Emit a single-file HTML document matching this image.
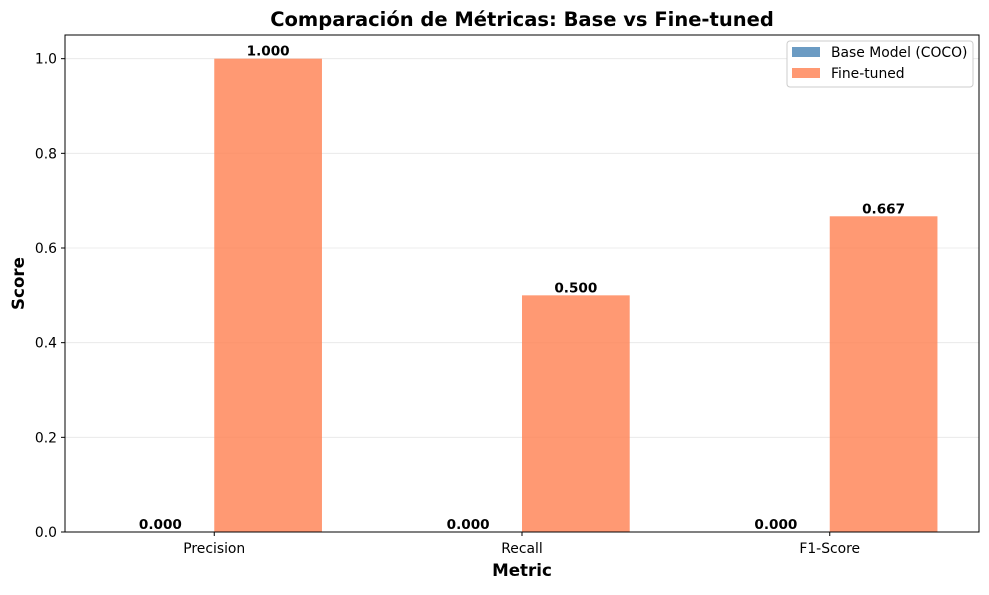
<!DOCTYPE html>
<html><head><meta charset="utf-8"><style>
body{margin:0;background:#fff;font-family:"Liberation Sans","DejaVu Sans",sans-serif;}
svg text{font-family:"DejaVu Sans","Liberation Sans",sans-serif;}
</style></head><body>
<svg id="chart" width="989" height="590" xmlns="http://www.w3.org/2000/svg"></svg>
<script>
const categories = ["Precision","Recall","F1-Score"];
const baseValues = [0.0, 0.0, 0.0];
const fineValues = [1.0, 0.5, 0.667];
const yTicks = [0.0,0.2,0.4,0.6,0.8,1.0];

const NS="http://www.w3.org/2000/svg";
const svg=document.getElementById('chart');
const L=65,R=979,T=35,B=532;
const xMin=-0.485,xMax=2.485,yMin=0,yMax=1.05;
const xs=v=>L+(v-xMin)/(xMax-xMin)*(R-L);
const ys=v=>B-(v-yMin)/(yMax-yMin)*(B-T);
function el(tag,attrs,parent){const e=document.createElementNS(NS,tag);for(const k in attrs)e.setAttribute(k,attrs[k]);(parent||svg).appendChild(e);return e;}
function txt(s,attrs){const e=el('text',attrs);e.textContent=s;return e;}

yTicks.forEach(t=>{
  const g=el('line',{x1:L,x2:R,y1:ys(t),y2:ys(t),stroke:'#e6e6e6','stroke-width':0.8});
  
  
});
const w=0.35;
categories.forEach((c,i)=>{
  const bx=xs(i-w),bw=xs(i)-xs(i-w);
  const b=el('rect',{x:bx,y:ys(baseValues[i]),width:bw,height:ys(0)-ys(baseValues[i]),fill:'#4682b4','fill-opacity':0.8});
  
  
  const f=el('rect',{x:xs(i),y:ys(fineValues[i]),width:bw,height:ys(0)-ys(fineValues[i]),fill:'#ff7f50','fill-opacity':0.8});
  
  
  const l1=txt(baseValues[i].toFixed(3),{x:xs(i-w/2),y:ys(baseValues[i])-3,'text-anchor':'middle','font-size':13.6,'font-weight':'bold'});
  
  
  const l2=txt(fineValues[i].toFixed(3),{x:xs(i+w/2),y:ys(fineValues[i])-3,'text-anchor':'middle','font-size':13.6,'font-weight':'bold'});
  
  
  const tk=el('line',{x1:xs(i),x2:xs(i),y1:B,y2:B+4,stroke:'#000'});
  
  
  const tl=txt(c,{x:xs(i),y:B+21,'text-anchor':'middle','font-size':13.9});
  
  
});
yTicks.forEach(t=>{
  const tk=el('line',{x1:L-4,x2:L,y1:ys(t),y2:ys(t),stroke:'#000'});
  
  
  const tl=txt(t.toFixed(1),{x:L-8,y:ys(t)+5,'text-anchor':'end','font-size':13.9});
  
  
});
const frame=el('rect',{x:L,y:T,width:R-L,height:B-T,fill:'none',stroke:'#000','stroke-width':1});


const title=txt('Comparación de Métricas: Base vs Fine-tuned',{x:(L+R)/2,y:26,'text-anchor':'middle','font-size':19.5,'font-weight':'bold'});


const xt=txt('Metric',{x:(L+R)/2,y:576,'text-anchor':'middle','font-size':16.7,'font-weight':'bold'});


const yt=txt('Score',{x:0,y:0,'text-anchor':'middle','font-size':16.7,'font-weight':'bold',transform:'translate(24,'+((T+B)/2)+') rotate(-90)'});


const lg=el('g',{});


el('rect',{x:787,y:41,width:186,height:46,rx:3,fill:'#fff',stroke:'#ccc'},lg);
const e1=el('rect',{x:792,y:47,width:28,height:10,fill:'#4682b4','fill-opacity':0.8},lg);


const t1=document.createElementNS(NS,'text');t1.textContent='Base Model (COCO)';
[['x',831],['y',57],['font-size',13.9]].forEach(a=>t1.setAttribute(a[0],a[1]));lg.appendChild(t1);


const e2=el('rect',{x:792,y:68,width:28,height:10,fill:'#ff7f50','fill-opacity':0.8},lg);


const t2=document.createElementNS(NS,'text');t2.textContent='Fine-tuned';
[['x',831],['y',78],['font-size',13.9]].forEach(a=>t2.setAttribute(a[0],a[1]));lg.appendChild(t2);


</script>
</body></html>
